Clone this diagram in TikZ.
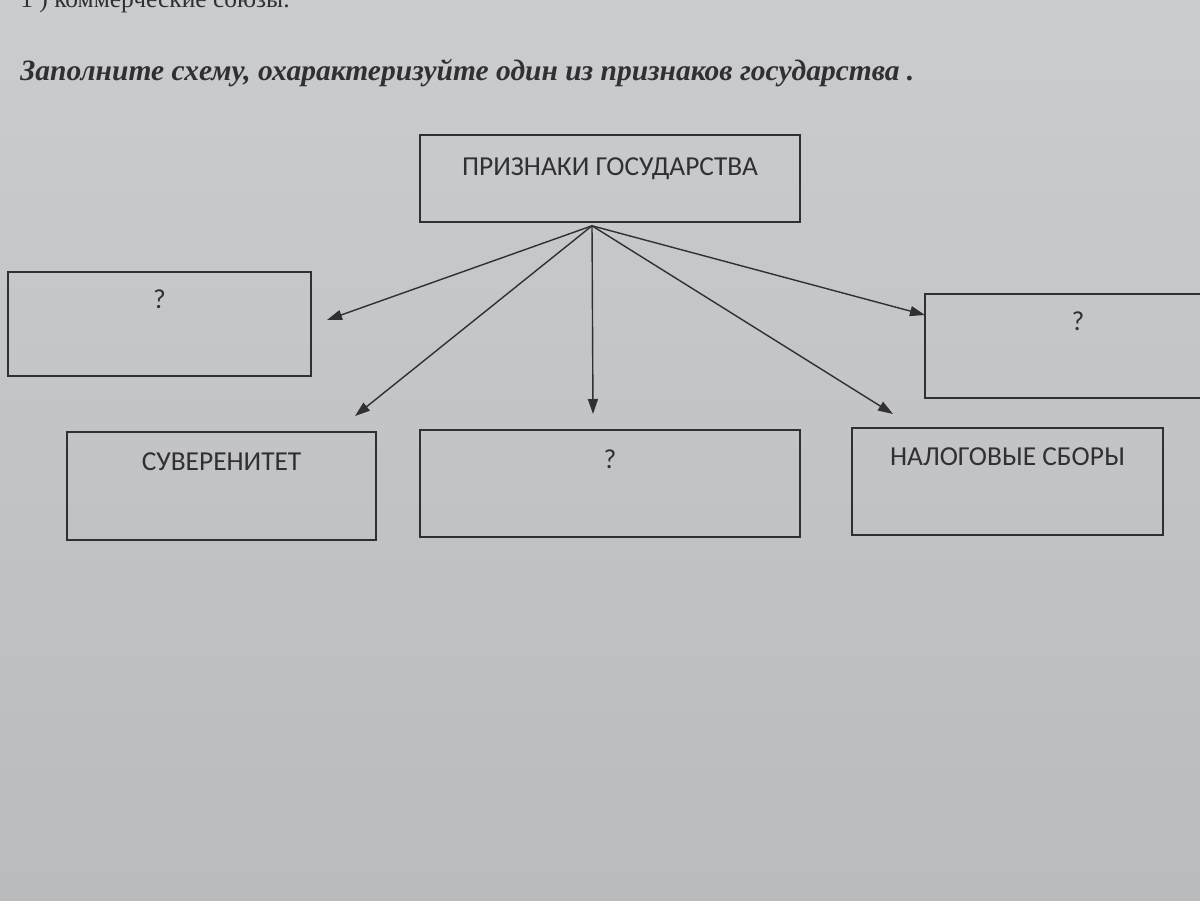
\documentclass[tikz,border=0pt]{standalone}
\usepackage{fontspec}
\setmainfont{Liberation Serif}
\newfontfamily\boxfont{Carlito}
\usetikzlibrary{arrows.meta, positioning}
\definecolor{papertop}{RGB}{203,204,206}
\definecolor{paperbot}{RGB}{186,187,190}
\definecolor{ink}{RGB}{48,48,52}

\begin{document}
\begin{tikzpicture}[
  x=0.02cm, y=-0.02cm,
  cell/.style 2 args={draw=ink, line width=0.9pt, inner sep=0pt,
    minimum width=#1*0.02cm, minimum height=#2*0.02cm},
  tag/.style={anchor=north, inner sep=0pt, text=ink,
    font=\boxfont\fontsize{15.6}{18}\selectfont},
  arr/.style={-{Triangle[length=3mm, width=2mm]}, draw=ink, line width=0.8pt}
]
\useasboundingbox (0,0) rectangle (1200,900);
\shade[top color=papertop, bottom color=paperbot] (0,0) rectangle (1200,900);

% heading lines of the sheet
\node[anchor=base west, inner sep=0pt, text=ink, font=\fontsize{14.5}{17}\selectfont] (head) at (20,7) {1 ) коммерческие союзы.};
\node[anchor=base west, inner sep=0pt, text=ink, font=\bfseries\itshape\fontsize{16.8}{20}\selectfont] (title) at (20,80) {Заполните схему, охарактеризуйте один из признаков государства .};

% boxes
\node[cell={380}{87}, label={[tag, yshift=-0.46cm]north:ПРИЗНАКИ ГОСУДАРСТВА}] (top) at (610,178.5) {};
\node[cell={303}{104}, label={[tag, yshift=-0.36cm]north:?}] (left) at (159.5,324) {};
\node[cell={306}{104}, label={[tag, yshift=-0.36cm]north:?}] (right) at (1078,346) {};
\node[cell={309}{108}, label={[tag, yshift=-0.42cm]north:СУВЕРЕНИТЕТ}] (sov) at (221.5,486) {};
\node[cell={380}{107}, label={[tag, yshift=-0.40cm]north:?}] (mid) at (610,483.5) {};
\node[cell={311}{107}, label={[tag, yshift=-0.40cm]north:НАЛОГОВЫЕ СБОРЫ}] (tax) at (1007.5,481.5) {};

% arrow ends
\coordinate (hub) at ([xshift=-0.36cm, yshift=-0.06cm]top.south);
\coordinate (endL) at (327,320);
\coordinate (endS) at (355,416);
\coordinate (endM) at (593,414);
\coordinate (endT) at (893,414);
\coordinate (endR) at (925,315);

\draw[arr] (hub) -- (endL);
\draw[arr] (hub) -- (endS);
\draw[arr] (hub) -- (endM);
\draw[arr] (hub) -- (endT);
\draw[arr] (hub) -- (endR);
\end{tikzpicture}
\end{document}
